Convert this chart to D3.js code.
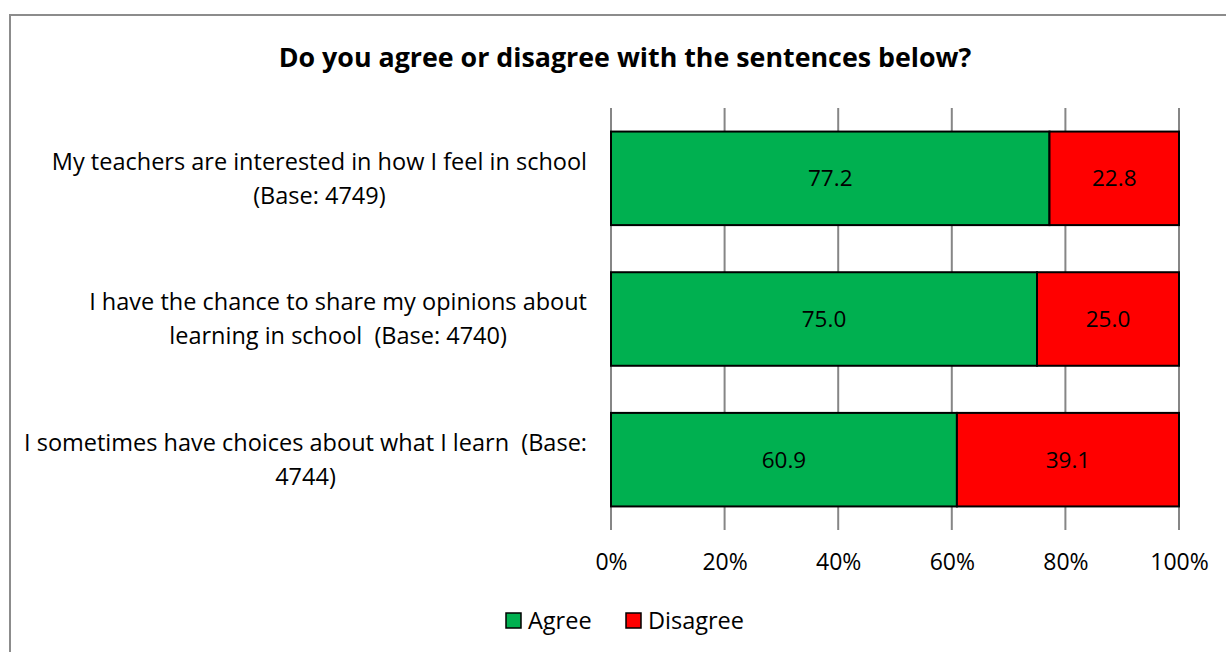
<!DOCTYPE html>
<html>
<head>
<meta charset="utf-8">
<script src="https://cdn.jsdelivr.net/npm/d3@7"></script>
<style>
  body { margin: 0; background: #fff; }
  svg text { font-family: "Open Sans", Lato, sans-serif; fill: #000; white-space: pre; }
</style>
</head>
<body>
<div id="chart"></div>
<script>
// data
var categories = [
	["My teachers are interested in how I feel in school", "(Base: 4749)"],
	["I have the chance to share my opinions about", "learning in school  (Base: 4740)"],
	["I sometimes have choices about what I learn  (Base:", "4744)"]
];
var agree = [77.2, 75.0, 60.9];
var disagree = [22.8, 25.0, 39.1];
var seriesNames = ["Agree", "Disagree"];
var tickValues = [0, 20, 40, 60, 80, 100];

var colors = ["#00b050", "#ff0000"];

var width = 1226, height = 652;
var margin = {top: 108, left: 611, right: 47, bottom: 122};
var chartWidth = width - margin.left - margin.right,
	chartHeight = height - margin.top - margin.bottom;
var fontSize = "23.5px";

var svg = d3.select("#chart").append("svg")
	.attr("width", width)
	.attr("height", height);

// outer border
svg.append("rect")
	.attr("x", 10).attr("y", 15)
	.attr("width", width).attr("height", height)
	.attr("fill", "none")
	.attr("stroke", "#8c8c8c")
	.attr("stroke-width", 2);

svg.append("text")
	.attr("x", 625).attr("y", 67)
	.attr("text-anchor", "middle")
	.style("font-size", "26.8px")
	.style("font-weight", "bold")
	.text("Do you agree or disagree with the sentences below?");

var x = d3.scaleLinear().domain([0, 100]).range([0, chartWidth]);
var y = d3.scaleBand().domain(d3.range(categories.length)).range([0, chartHeight]).paddingInner(0.335).paddingOuter(0.1675);

var g = svg.append("g")
	.attr("transform", "translate(" + margin.left + "," + margin.top + ")");

// gridlines
g.selectAll(".grid")
	.data(tickValues)
  .enter().append("line")
	.attr("x1", function(d) { return x(d); })
	.attr("x2", function(d) { return x(d); })
	.attr("y1", 0).attr("y2", chartHeight)
	.attr("stroke", "#868686")
	.attr("stroke-width", 2);

var xAxis = g.append("g")
	.attr("transform", "translate(0," + chartHeight + ")")
	.call(d3.axisBottom(x).tickValues(tickValues).tickSize(0).tickPadding(24)
		.tickFormat(function(d) { return d + "%"; }));
xAxis.select(".domain").remove();
xAxis.selectAll("text").style("font-size", "23px").style("font-family", "'Open Sans', sans-serif").attr("fill", "#000");

var rows = categories.map(function(c, i) {
	return {i: i, parts: [
		{s: 0, x0: 0, x1: agree[i], v: agree[i]},
		{s: 1, x0: agree[i], x1: agree[i] + disagree[i], v: disagree[i]}
	]};
});

var rowG = g.selectAll(".row")
	.data(rows)
  .enter().append("g")
	.attr("class", "row")
	.attr("transform", function(d) { return "translate(0," + y(d.i) + ")"; });

var seg = rowG.selectAll(".seg")
	.data(function(d) { return d.parts; })
  .enter();

seg.append("rect")
	.attr("x", function(d) { return x(d.x0); })
	.attr("width", function(d) { return x(d.x1) - x(d.x0); })
	.attr("height", y.bandwidth())
	.attr("fill", function(d) { return colors[d.s]; })
	.attr("stroke", "#000")
	.attr("stroke-width", 2);

seg.append("text")
	.attr("x", function(d) { return (x(d.x0) + x(d.x1)) / 2; })
	.attr("y", y.bandwidth() / 2)
	.attr("dy", "0.35em")
	.attr("text-anchor", "middle")
	.style("font-size", "22.5px")
	.text(function(d) { return d.v.toFixed(1); });

// category labels, wrapped lines centred on the block
var labelRight = 587;
categories.forEach(function(lines, i) {
	var lg = svg.append("g");
	var cy = margin.top + y(i) + y.bandwidth() / 2;
	var t = lg.selectAll("text").data(lines).enter().append("text")
		.attr("y", function(d, j) { return cy + (j - (lines.length - 1) / 2) * 34; })
		.attr("dy", "0.35em")
		.attr("text-anchor", "middle")
		.style("font-size", fontSize)
		.text(function(d) { return d; });
	var maxW = 0;
	t.each(function() { maxW = Math.max(maxW, this.getComputedTextLength()); });
	t.attr("x", labelRight - maxW / 2);
});

// legend
var legend = svg.append("g").attr("transform", "translate(506,613)");
var legendX = [0, 120];
seriesNames.forEach(function(name, i) {
	legend.append("rect")
		.attr("x", legendX[i]).attr("y", 0)
		.attr("width", 15).attr("height", 15)
		.attr("fill", colors[i])
		.attr("stroke", "#000")
		.attr("stroke-width", 1.5);
	legend.append("text")
		.attr("x", legendX[i] + 22).attr("y", 8)
		.attr("dy", "0.35em")
		.style("font-size", fontSize)
		.text(name);
});
</script>
</body>
</html>
